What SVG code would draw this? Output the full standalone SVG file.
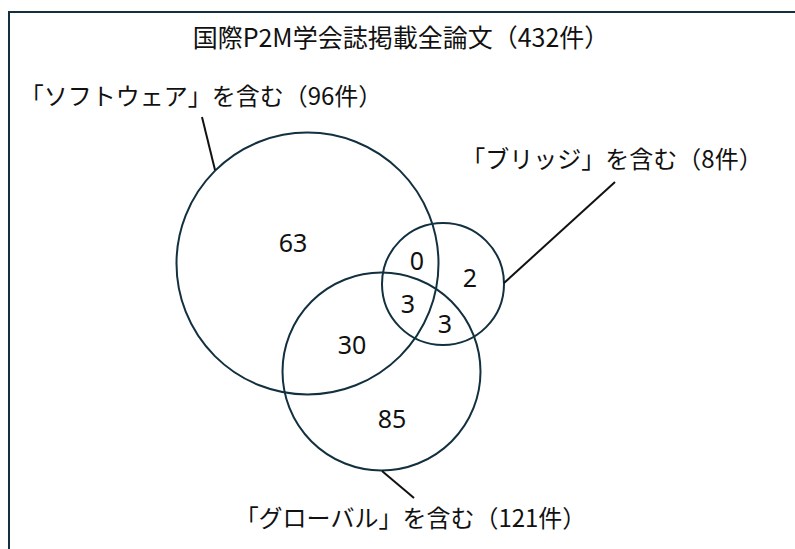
<svg xmlns="http://www.w3.org/2000/svg" width="795" height="549" viewBox="0 0 795 549">
<style>
.c{fill:none;stroke:#12303f;stroke-width:2}
.l{stroke:#111;stroke-width:2;fill:none}
.t{font-family:"Noto Sans CJK JP","Noto Sans",sans-serif;font-size:24px;fill:#111;text-anchor:middle}
.n{font-family:"Noto Sans","Noto Sans CJK JP",sans-serif;font-size:25px;fill:#111;text-anchor:middle}
</style>
<rect x="0" y="0" width="795" height="549" fill="#fff"/>
<rect id="frame" x="9" y="12" width="800" height="560" fill="none" stroke="#12303f" stroke-width="2"/>
<text id="title" class="t" x="401" y="47" style="font-size:25px">国際P2M学会誌掲載全論文（432件）</text>
<g id="software">
<circle class="c" cx="307.5" cy="263.5" r="131"/>
<text class="t" x="201" y="105">「ソフトウェア」を含む（96件）</text>
<text class="n" x="293" y="252">63</text>
</g>
<g id="bridge">
<circle class="c" cx="443" cy="284" r="61"/>
<text class="t" x="612" y="168">「ブリッジ」を含む（8件）</text>
<text class="n" x="470" y="287">2</text>
</g>
<g id="global">
<circle class="c" cx="381.5" cy="371.5" r="99"/>
<text class="t" x="410.5" y="527">「グローバル」を含む（121件）</text>
<text class="n" x="392" y="428">85</text>
</g>
<g id="overlaps">
<text class="n" x="417" y="270">0</text>
<text class="n" x="408" y="313">3</text>
<text class="n" x="445" y="333">3</text>
<text class="n" x="352" y="354">30</text>
</g>
<g id="connectors">
<line class="l" x1="202" y1="117" x2="215" y2="170"/>
<line class="l" x1="615" y1="182" x2="504" y2="283"/>
<line class="l" x1="382" y1="471" x2="414" y2="498"/>
</g>
</svg>
